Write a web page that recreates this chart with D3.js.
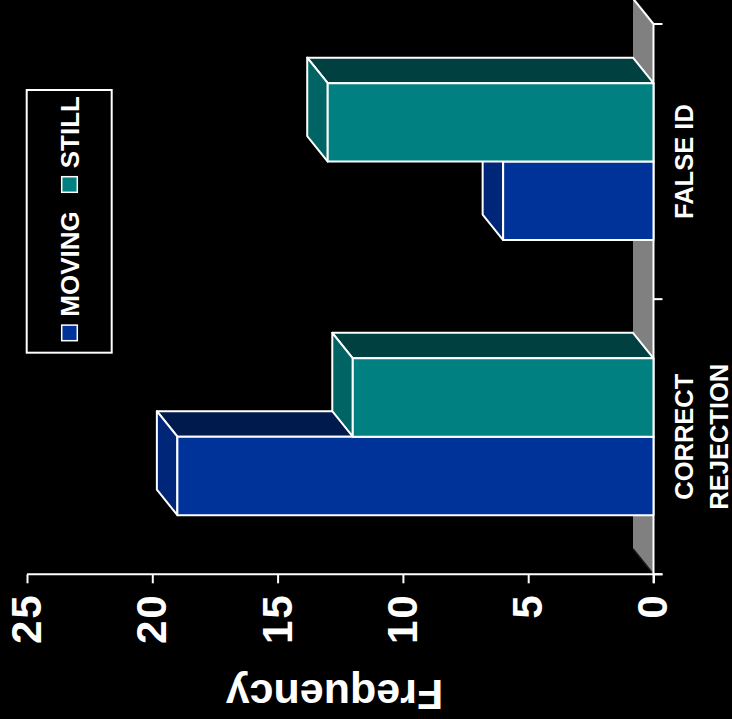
<!DOCTYPE html>
<html>
<head>
<meta charset="utf-8">
<script src="https://cdn.jsdelivr.net/npm/d3@7"></script>
<style>
  html, body { margin: 0; padding: 0; background: #000; }
  svg { display: block; }
  text { font-family: "Liberation Sans", Arial, sans-serif; font-weight: bold; fill: #fff; }
</style>
</head>
<body>
<script>
// Frequency of responses by condition
const categories = ["CORRECT\nREJECTION", "FALSE ID"];
const series = ["MOVING", "STILL"];
const moving = [19, 6];
const still = [12, 13];
const valueTicks = [0, 5, 10, 15, 20, 25];

const frontColor = { MOVING: "#003399", STILL: "#008080" };
const topColor   = { MOVING: "#00267a", STILL: "#006464" };
const sideColor  = { MOVING: "#001a4d", STILL: "#004040" };

const W = 732, H = 719;
// 3D depth offset of the column chart
const DX = 25.5, DY = -20.5;

const svg = d3.select("body").append("svg")
  .attr("width", W).attr("height", H)
  .style("background", "#000");

// The column chart is laid out upright and turned a quarter turn counter-clockwise
const g = svg.append("g").attr("transform", `translate(0,${H}) rotate(-90)`);

const y = d3.scaleLinear().domain([0, 25]).range([653.5, 27]);
const x = d3.scaleBand().domain(categories).range([144.7, 695]).padding(0);
const xs = d3.scaleBand().domain(series).range([0, x.bandwidth()])
  .paddingInner(0).paddingOuter(0.754);

const y0 = y(0);
const xStart = x.range()[0], xEnd = x.range()[1];

// Floor
g.append("path")
  .attr("d", `M${xStart},${y0}L${xEnd},${y0}L${xEnd + DX},${y0 + DY}L${xStart + DX},${y0 + DY}Z`)
  .attr("fill", "#808080");
g.append("line")
  .attr("x1", xEnd).attr("y1", y0).attr("x2", xEnd + DX).attr("y2", y0 + DY)
  .attr("stroke", "#fff").attr("stroke-width", 2);
g.append("line")
  .attr("x1", xStart).attr("y1", y0).attr("x2", xStart + DX).attr("y2", y0 + DY)
  .attr("stroke", "#1a1a1a").attr("stroke-width", 1.5);

// Value axis
const yAxis = d3.axisLeft(y).tickValues(valueTicks).tickSize(9).tickSizeOuter(0).tickPadding(10);
const ya = g.append("g").attr("transform", `translate(${xStart},0)`).call(yAxis);
ya.select(".domain").remove();
ya.append("line").attr("x1", 0).attr("x2", 0).attr("y1", y(25)).attr("y2", y0 + 9)
  .attr("stroke", "#fff").attr("stroke-width", 2);
ya.selectAll(".tick line").attr("stroke", "#fff").attr("stroke-width", 2);
ya.selectAll(".tick text")
  .attr("fill", "#fff")
  .style("font-size", "42px")
  .style("letter-spacing", "2px")
  .style("font-family", "'Liberation Sans', Arial, sans-serif")
  .style("font-weight", "bold");

// Category axis
const ca = g.append("g");
ca.append("line").attr("x1", xStart - 9).attr("x2", xEnd).attr("y1", y0).attr("y2", y0)
  .attr("stroke", "#fff").attr("stroke-width", 2);
const bounds = categories.map(c => x(c)).concat([xEnd]);
ca.selectAll("line.ctick").data(bounds).join("line").attr("class", "ctick")
  .attr("x1", d => d).attr("x2", d => d).attr("y1", y0).attr("y2", y0 + 9)
  .attr("stroke", "#fff").attr("stroke-width", 2);

const catLabels = ca.selectAll("text.cat").data(categories).join("text")
  .attr("class", "cat")
  .attr("text-anchor", "middle")
  .style("font-size", "25.5px");
catLabels.each(function(c) {
  const t = d3.select(this);
  c.split("\n").forEach((w, i) => {
    t.append("tspan")
      .attr("x", x(c) + x.bandwidth() / 2)
      .attr("y", 693 + i * 35)
      .text(w);
  });
});

// Bars
const rows = categories.map((c, i) => ({ c, MOVING: moving[i], STILL: still[i] }));
rows.forEach(r => {
  series.forEach(s => {
    const x0 = x(r.c) + xs(s), x1 = x0 + xs.bandwidth();
    const yv = y(r[s]);
    const bar = g.append("g");
    const edge = sel => sel.attr("stroke", "#fff").attr("stroke-width", 2).attr("stroke-linejoin", "round");
    bar.append("path")
      .attr("d", `M${x1},${yv}L${x1},${y0}L${x1 + DX},${y0 + DY}L${x1 + DX},${yv + DY}Z`)
      .attr("fill", sideColor[s]).call(edge);
    bar.append("path")
      .attr("d", `M${x0},${yv}L${x1},${yv}L${x1 + DX},${yv + DY}L${x0 + DX},${yv + DY}Z`)
      .attr("fill", topColor[s]).call(edge);
    bar.append("rect")
      .attr("x", x0).attr("y", yv).attr("width", x1 - x0).attr("height", y0 - yv)
      .attr("fill", frontColor[s]).call(edge);
  });
});

// Axis title
g.append("text")
  .attr("transform", `translate(39,334.5) rotate(-90)`)
  .attr("text-anchor", "middle")
  .style("font-size", "43px")
  .text("Frequency");

// Legend
const lg = g.append("g");
lg.append("rect").attr("x", 366.3).attr("y", 26.7).attr("width", 262.7).attr("height", 85)
  .attr("fill", "none").attr("stroke", "#fff").attr("stroke-width", 2);
const legendPos = { MOVING: 378.3, STILL: 526.7 };
series.forEach(s => {
  const lx = legendPos[s];
  lg.append("rect").attr("x", lx).attr("y", 61.7).attr("width", 15.6).attr("height", 15.6)
    .attr("fill", frontColor[s]).attr("stroke", "#fff").attr("stroke-width", 1.5);
  lg.append("text").attr("x", lx + 24).attr("y", 79)
    .style("font-size", "26px")
    .text(s);
});
</script>
</body>
</html>
